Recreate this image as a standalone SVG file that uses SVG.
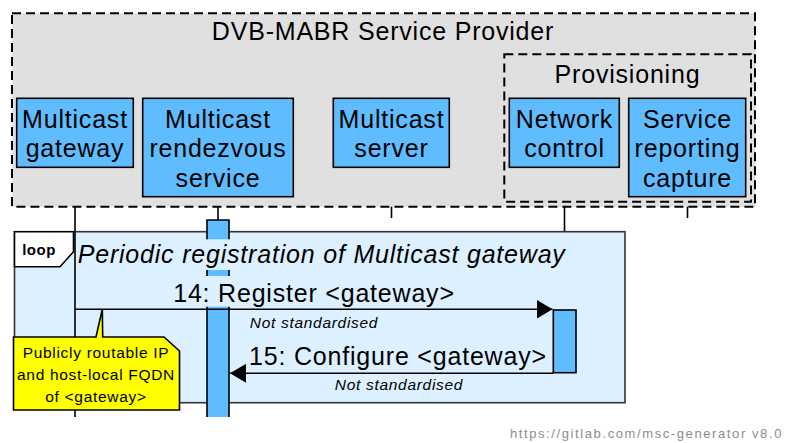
<svg xmlns="http://www.w3.org/2000/svg" width="785" height="443" viewBox="0 0 785 443">
<style>
.t{font-family:"Liberation Sans",Arial,sans-serif;fill:#000;text-anchor:middle}
.big{font-size:25px;letter-spacing:0.8px}
.it{font-style:italic}
.sm{font-size:15.5px;letter-spacing:0.7px}
.node{fill:#5ebcff;stroke:#000;stroke-width:1.6}
.ll{stroke:#000;stroke-width:1.6;fill:none}
.act{fill:#5ebcff;stroke:#000;stroke-width:1.6}
.dash{stroke:#000;stroke-width:2;stroke-dasharray:9,5;fill:#e0e0e0}
</style>
<defs>
<marker id="ah" markerWidth="16" markerHeight="19" refX="16" refY="9.5" orient="auto" markerUnits="userSpaceOnUse">
<path d="M0,0 L16,9.5 L0,19 Z" fill="#000"/>
</marker>
</defs>
<rect width="785" height="443" fill="#fff"/>
<g id="provider">
<rect class="dash" x="12" y="13.3" width="743" height="193.4"/>
<text class="t big" x="383" y="40">DVB-MABR Service Provider</text>
</g>
<g id="provisioning">
<rect class="dash" x="504.3" y="54.3" width="246.7" height="147.4"/>
<text class="t big" x="627.5" y="82.7">Provisioning</text>
</g>
<g id="lifelines">
<line class="ll" x1="75" y1="206.7" x2="75" y2="417"/>
<line class="ll" x1="218" y1="206.7" x2="218" y2="220"/>
<line class="ll" x1="391.5" y1="206.7" x2="391.5" y2="218"/>
<line class="ll" x1="564.5" y1="206.7" x2="564.5" y2="310"/>
<line class="ll" x1="687.5" y1="206.7" x2="687.5" y2="218"/>
</g>
<g id="node-gateway">
<rect class="node" x="16.7" y="98.3" width="116.6" height="69"/>
<text class="t big" x="75" y="127.7">Multicast</text>
<text class="t big" x="75" y="157">gateway</text>
</g>
<g id="node-rendezvous">
<rect class="node" x="142.7" y="98.3" width="150.6" height="98.4"/>
<text class="t big" x="218" y="127.7">Multicast</text>
<text class="t big" x="218" y="157">rendezvous</text>
<text class="t big" x="218" y="186.5">service</text>
</g>
<g id="node-server">
<rect class="node" x="333.3" y="98.3" width="116" height="69"/>
<text class="t big" x="391.5" y="127.7">Multicast</text>
<text class="t big" x="391.5" y="157">server</text>
</g>
<g id="node-network">
<rect class="node" x="509.3" y="98.3" width="110" height="69"/>
<text class="t big" x="564.5" y="127.7">Network</text>
<text class="t big" x="564.5" y="157">control</text>
</g>
<g id="node-reporting">
<rect class="node" x="628.7" y="98.3" width="117" height="98.4"/>
<text class="t big" x="687.5" y="127.7">Service</text>
<text class="t big" x="687.5" y="157">reporting</text>
<text class="t big" x="687.5" y="186.5">capture</text>
</g>
<g id="loop">
<rect x="14.5" y="231.7" width="610.5" height="171" fill="#dcf0ff" stroke="#333" stroke-width="1.6"/>
<line class="ll" x1="75" y1="231.7" x2="75" y2="340"/>
<path d="M14.5,231.7 L73.5,231.7 L73.5,251.7 L60,266.7 L14.5,266.7 Z" fill="#fff" stroke="#000" stroke-width="1.6"/>
<text class="t" x="39" y="255" style="font-size:15px;font-weight:bold;letter-spacing:0.5px">loop</text>
</g>
<g id="activations">
<rect x="207" y="220" width="22" height="197" fill="#5ebcff"/>
<path class="ll" d="M207,417 L207,220 L229,220 L229,417"/>
<rect x="76.5" y="239.3" width="491" height="30.7" fill="#dcf0ff"/>
<rect x="168" y="276" width="292" height="30.7" fill="#dcf0ff"/>
<rect class="act" x="553.3" y="310" width="22.7" height="62.7"/>
</g>
<g id="connectors">
<line x1="75" y1="309.3" x2="552.5" y2="309.3" stroke="#000" stroke-width="1.6" marker-end="url(#ah)"/>
<line x1="553.3" y1="373.3" x2="230" y2="373.3" stroke="#000" stroke-width="1.6" marker-end="url(#ah)"/>
</g>
<g id="labels">
<text class="t big it" x="321.7" y="263.3">Periodic registration of Multicast gateway</text>
<text class="t big" x="314" y="301.7">14: Register &lt;gateway&gt;</text>
<text class="t sm it" x="314" y="328.3">Not standardised</text>
<text class="t big" x="398" y="365">15: Configure &lt;gateway&gt;</text>
<text class="t sm it" x="399" y="390">Not standardised</text>
</g>
<g id="note">
<path d="M13.5,337 L96,337 L102.3,309.3 L102.7,337 L164,337 L179.5,351 L179.5,410 L13.5,410 Z" fill="#ffff00" stroke="#000" stroke-width="1.6"/>
<text class="t sm" x="96" y="358.3">Publicly routable IP</text>
<text class="t sm" x="96" y="380">and host-local FQDN</text>
<text class="t sm" x="96" y="401.7">of &lt;gateway&gt;</text>
</g>
<text x="783" y="437.7" style="font-family:'Liberation Sans',Arial,sans-serif;font-size:13px;letter-spacing:1.6px;fill:#8c8c8c;text-anchor:end">https://gitlab.com/msc-generator v8.0</text>
</svg>
